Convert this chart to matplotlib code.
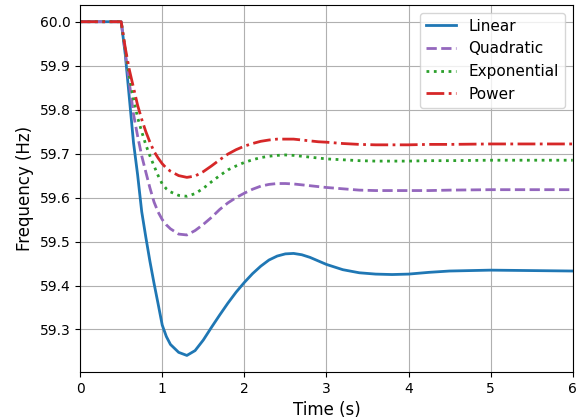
import matplotlib
matplotlib.use("Agg")
import matplotlib.pyplot as plt

t = [0.0, 0.5, 0.55, 0.6, 0.65, 0.7, 0.75, 0.8, 0.85, 0.9, 0.95, 1.0, 1.05, 1.1, 1.2, 1.3,
     1.4, 1.5, 1.6, 1.7, 1.8, 1.9, 2.0, 2.1, 2.2, 2.3, 2.4, 2.5, 2.6, 2.7, 2.8, 2.9, 3.0,
     3.2, 3.4, 3.6, 3.8, 4.0, 4.25, 4.5, 5.0, 5.5, 6.0]

linear = [60.0, 60.0, 59.925, 59.825, 59.725, 59.652, 59.568, 59.51, 59.455, 59.405, 59.358,
          59.31, 59.284, 59.266, 59.248, 59.241, 59.252, 59.276, 59.305, 59.333, 59.36,
          59.385, 59.407, 59.427, 59.444, 59.458, 59.467, 59.472, 59.473, 59.47, 59.464,
          59.456, 59.448, 59.436, 59.429, 59.426, 59.425, 59.426, 59.43, 59.433, 59.435,
          59.434, 59.433]

quadratic = [60.0, 60.0, 59.93, 59.86, 59.79, 59.74, 59.695, 59.658, 59.622, 59.59, 59.567,
             59.55, 59.538, 59.529, 59.517, 59.515, 59.525, 59.539, 59.555, 59.573, 59.588,
             59.6, 59.61, 59.619, 59.626, 59.63, 59.632, 59.632, 59.631, 59.629, 59.627,
             59.625, 59.623, 59.62, 59.617, 59.616, 59.616, 59.616, 59.616, 59.617, 59.618,
             59.618, 59.618]

exponential = [60.0, 60.0, 59.935, 59.875, 59.825, 59.782, 59.75, 59.72, 59.695, 59.672,
               59.65, 59.631, 59.62, 59.613, 59.605, 59.603, 59.609, 59.621, 59.636,
               59.65, 59.663, 59.672, 59.68, 59.686, 59.691, 59.694, 59.696, 59.697, 59.696,
               59.694, 59.692, 59.69, 59.688, 59.686, 59.684, 59.683, 59.683, 59.683,
               59.684, 59.684, 59.685, 59.685, 59.685]

power = [60.0, 60.0, 59.94, 59.89, 59.85, 59.81, 59.778, 59.75, 59.726, 59.705, 59.69,
         59.677, 59.667, 59.66, 59.65, 59.646, 59.649, 59.659, 59.672, 59.686, 59.699,
         59.709, 59.717, 59.723, 59.728, 59.731, 59.733, 59.733, 59.733, 59.731, 59.729,
         59.727, 59.726, 59.723, 59.721, 59.72, 59.72, 59.72, 59.721, 59.721, 59.722,
         59.722, 59.722]

series = [
    ("Linear", linear, "tab:blue", "-"),
    ("Quadratic", quadratic, "tab:purple", "--"),
    ("Exponential", exponential, "tab:green", ":"),
    ("Power", power, "tab:red", "-."),
]

fig = plt.figure(figsize=(5.85, 4.2), dpi=100)
ax = fig.add_axes([0.137, 0.114, 0.842, 0.874])
for name, vals, color, ls in series:
    ax.plot(t, vals, color=color, linestyle=ls, linewidth=2, label=name)

ax.set_xlim(0, 6)
ax.set_xlabel("Time (s)", fontsize=12)
ax.set_ylabel("Frequency (Hz)", fontsize=12)
ax.grid(True)
ax.legend(loc="upper right", fontsize=11)
fig.savefig("out.png", dpi=100)
